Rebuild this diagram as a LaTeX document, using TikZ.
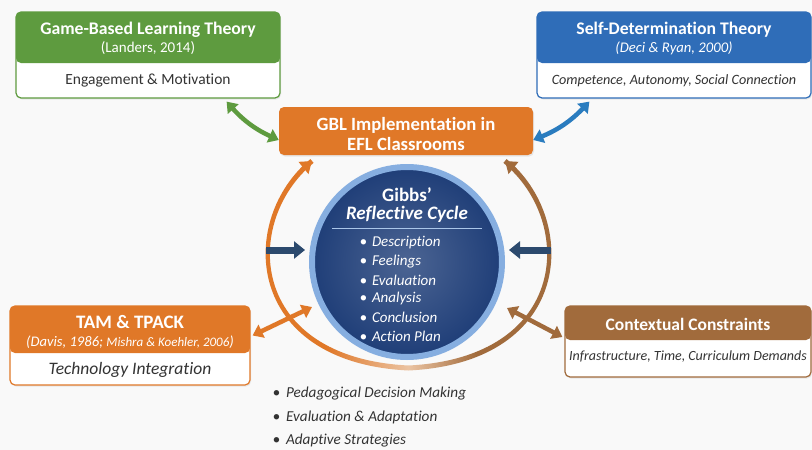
\documentclass[tikz,border=0pt]{standalone}
\usepackage{fontspec}
\setmainfont{Carlito}[Ligatures=NoCommon]
\usetikzlibrary{arrows.meta, shadows}
\definecolor{grn}{HTML}{5E9B3F}
\definecolor{blu}{HTML}{2F6DB8}
\definecolor{org}{HTML}{E07828}
\definecolor{brn}{HTML}{A16B3C}
\definecolor{peach}{HTML}{EBC3A2}
\definecolor{navy}{HTML}{1F3E78}
\definecolor{ring}{HTML}{86AEE0}
\definecolor{darr}{HTML}{2C4A6E}
\definecolor{txt}{HTML}{333333}
\definecolor{bg}{HTML}{F9F9F9}
\pgfdeclarehorizontalshading{arcshade}{100bp}{color(0bp)=(org); color(38bp)=(org);
  color(50bp)=(peach); color(60bp)=(brn); color(100bp)=(brn)}

\begin{document}
\begin{tikzpicture}[x=1pt, y=-1pt,
  tbox/.style n args={4}{draw=#1, fill=white, line width=1.2pt, rounded corners=5pt,
    minimum width=#2, minimum height=#3, inner sep=0pt,
    drop shadow={opacity=0.15, shadow xshift=1pt, shadow yshift=-1.5pt},
    path picture={\fill[#1] (path picture bounding box.north west) rectangle ([yshift=-#4]path picture bounding box.north east);}},
  htitle/.style={text=white, font=\fontsize{17.7}{20}\selectfont\bfseries},
  hcite/.style={text=white, font=\fontsize{15}{17}\selectfont},
  btext/.style={text=txt, font=\fontsize{15.5}{18}\selectfont},
  dbl/.style={line width=4.5pt, {Triangle[width=14pt,length=10pt]}-{Triangle[width=14pt,length=10pt]}},
  tip/.style={line width=5pt, -{Triangle[width=15pt,length=11pt]}},
  inarr/.style={draw=darr, line width=7pt, -{Triangle[width=17pt,length=11pt]}},
  cbul/.style={text=white, font=\fontsize{15}{17}\selectfont\itshape, anchor=west},
  lbul/.style={text=txt, font=\fontsize{15.2}{18}\selectfont\itshape, anchor=west}]
\useasboundingbox (0,0) rectangle (812,450);
\fill[bg] (0,0) rectangle (812,450);

% theory boxes
\node[tbox={grn}{264pt}{86pt}{51pt}] (glt) at (148,55) {};
\node[htitle] (gltt) at (148,30) {Game-Based Learning Theory};
\node[hcite] (gltc) at (148,48) {(Landers, 2014)};
\node[btext] (gltb) at (148,80) {Engagement \& Motivation};

\node[tbox={blu}{274pt}{86pt}{51pt}] (sdt) at (674,55) {};
\node[htitle] (sdtt) at (674,30) {Self-Determination Theory};
\node[hcite, font=\fontsize{14.7}{17}\selectfont\itshape] (sdtc) at (674,48) {(Deci \& Ryan, 2000)};
\node[btext, font=\fontsize{14.2}{16}\selectfont\itshape] (sdtb) at (674,81) {Competence, Autonomy, Social Connection};

\node[tbox={org}{240pt}{79pt}{47pt}] (tam) at (130,345.5) {};
\node[htitle, font=\fontsize{19}{21}\selectfont\bfseries] (tamt) at (130,322) {TAM \& TPACK};
\node[hcite, font=\fontsize{14.6}{16}\selectfont\itshape] (tamc) at (130,342) {(Davis, 1986; {\fontsize{13}{14}\selectfont Mishra \& Koehler, 2006})};
\node[btext, font=\fontsize{17.5}{19}\selectfont\itshape] (tamb) at (130,370) {Technology Integration};

\node[tbox={brn}{246pt}{71pt}{34pt}] (ctx) at (688,341.5) {};
\node[htitle, font=\fontsize{17.5}{20}\selectfont\bfseries] (ctxt) at (688,324) {Contextual Constraints};
\node[btext, font=\fontsize{14}{16}\selectfont\itshape] (ctxb) at (688,357) {Infrastructure, Time, Curriculum Demands};

% implementation box
\node[fill=org, rounded corners=5pt, minimum width=254pt, minimum height=48pt,
  drop shadow={opacity=0.15, shadow xshift=1pt, shadow yshift=-1.5pt}] (gbl) at (406,131) {};
\node[text=white, font=\fontsize{18.7}{20.5}\selectfont\bfseries, align=center] (gblt) at (406,134)
  {GBL Implementation in\\EFL Classrooms};

% outer cycle band, orange to brown
\shade[shading=arcshade] (310.4,159.1) .. controls (237.5,218.9) and (242.6,362.4) .. (408.5,370.5)
  .. controls (574.4,362.4) and (579.5,218.9) .. (506.6,159.1) -- (503.4,162.9)
  .. controls (574.5,221.1) and (569.6,357.6) .. (408.5,365.5)
  .. controls (247.4,357.6) and (242.5,221.1) .. (313.6,162.9) -- cycle;
\coordinate (al) at (312,161);
\coordinate (ar) at (505,161);
\draw[tip, org] (304.8,166.9) -- (al);
\draw[tip, brn] (512.2,166.9) -- (ar);

% Gibbs cycle
\node[circle, minimum size=190pt, draw=ring, line width=6pt,
  inner color=navy!80!white, outer color=navy] (gibbs) at (407,262) {};
\node[text=white, font=\fontsize{19}{21}\selectfont\bfseries] (gibt) at (407,195) {Gibbs’};
\node[text=white, font=\fontsize{19}{21}\selectfont\bfseries\itshape] (gibs) at (407,214) {Reflective Cycle};
\draw[ring!70!white, line width=0.8pt] (332,228) -- (482,228);
\foreach \t [count=\i] in {Description, Feelings, Evaluation, Analysis, Conclusion, Action Plan}
  \node[cbul] (c\i) at (356,{243+18.6*(\i-1)}) {\textbullet\hspace{5pt}\t};

% outcomes
\foreach \t [count=\i] in {Pedagogical Decision Making, Evaluation \& Adaptation, Adaptive Strategies}
  \node[lbul] (o\i) at (269,{394+23.5*(\i-1)}) {\textbullet\hspace{6pt}\t};

% connectors
\draw[dbl, draw=grn] ([xshift=-54pt,yshift=-3pt]glt.south east) to[bend right=12] ([yshift=-9pt]gbl.west);
\draw[dbl, draw=blu!90!cyan] ([xshift=53pt,yshift=-3pt]sdt.south west) to[bend left=12] ([yshift=-9pt]gbl.east);

\coordinate (tl) at (312,307);
\coordinate (tr) at (507,308);
\draw[dbl, draw=org] ([xshift=2pt,yshift=10pt]tam.east) -- (tl);
\draw[dbl, draw=brn] (tr) -- ([xshift=-2pt,yshift=4.5pt]ctx.west);

\coordinate (li) at (266,250);
\coordinate (ri) at (551,250);
\draw[inarr] (li) -- ([xshift=-4pt]gibbs.west |- li);
\draw[inarr] (ri) -- ([xshift=4pt]gibbs.east |- ri);
\end{tikzpicture}
\end{document}
